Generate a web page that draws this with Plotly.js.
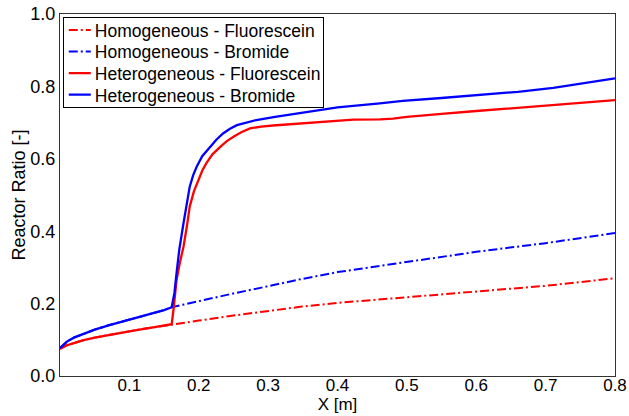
<!DOCTYPE html>
<html>
<head>
<meta charset="utf-8">
<script src="https://cdn.plot.ly/plotly-3.0.1.min.js"></script>
<style>html,body{margin:0;padding:0;background:#fff;}#chart{width:629px;height:416px;}</style>
</head>
<body>
<div id="chart"></div>
<script>
// Heterogeneous - Bromide
const hetBrX = [0, 0.01, 0.02, 0.035, 0.05, 0.07, 0.09, 0.11, 0.13, 0.15, 0.161, 0.165, 0.168, 0.172, 0.178, 0.183, 0.187, 0.192, 0.197, 0.205, 0.216, 0.225, 0.235, 0.245, 0.255, 0.27, 0.283, 0.31, 0.346, 0.375, 0.4, 0.461, 0.494, 0.55, 0.605, 0.66, 0.711, 0.75, 0.8];
const hetBrY = [0.077, 0.095, 0.106, 0.118, 0.128, 0.140, 0.150, 0.160, 0.171, 0.182, 0.190, 0.23, 0.284, 0.35, 0.422, 0.48, 0.523, 0.555, 0.578, 0.607, 0.633, 0.652, 0.670, 0.683, 0.693, 0.701, 0.707, 0.716, 0.726, 0.735, 0.742, 0.753, 0.76, 0.768, 0.776, 0.785, 0.796, 0.808, 0.822];
// Heterogeneous - Fluorescein
const hetFlX = [0, 0.01, 0.02, 0.034, 0.05, 0.082, 0.11, 0.13, 0.15, 0.161, 0.164, 0.168, 0.173, 0.178, 0.183, 0.187, 0.193, 0.199, 0.205, 0.211, 0.22, 0.231, 0.24, 0.25, 0.262, 0.274, 0.29, 0.307, 0.346, 0.38, 0.423, 0.461, 0.48, 0.5, 0.52, 0.55, 0.6, 0.65, 0.7, 0.75, 0.8];
const hetFlY = [0.075, 0.085, 0.091, 0.099, 0.106, 0.118, 0.127, 0.133, 0.139, 0.143, 0.19, 0.265, 0.315, 0.357, 0.415, 0.468, 0.51, 0.541, 0.567, 0.588, 0.613, 0.633, 0.648, 0.661, 0.674, 0.684, 0.689, 0.692, 0.697, 0.701, 0.708, 0.709, 0.711, 0.716, 0.72, 0.724, 0.732, 0.74, 0.748, 0.754, 0.762];
// Homogeneous - Bromide
const homBrX = [0, 0.01, 0.02, 0.035, 0.05, 0.07, 0.09, 0.11, 0.13, 0.15, 0.161, 0.2, 0.25, 0.3, 0.346, 0.4, 0.5, 0.6, 0.7, 0.8];
const homBrY = [0.077, 0.095, 0.106, 0.118, 0.128, 0.140, 0.150, 0.160, 0.171, 0.182, 0.190, 0.207, 0.228, 0.248, 0.267, 0.287, 0.315, 0.343, 0.367, 0.395];
// Homogeneous - Fluorescein
const homFlX = [0, 0.01, 0.02, 0.034, 0.05, 0.082, 0.11, 0.13, 0.15, 0.161, 0.2, 0.25, 0.3, 0.346, 0.4, 0.5, 0.6, 0.7, 0.8];
const homFlY = [0.075, 0.085, 0.091, 0.099, 0.106, 0.118, 0.127, 0.133, 0.139, 0.143, 0.153, 0.167, 0.18, 0.191, 0.202, 0.218, 0.232, 0.249, 0.27];

const names = ['Homogeneous - Fluorescein', 'Homogeneous - Bromide', 'Heterogeneous - Fluorescein', 'Heterogeneous - Bromide'];
const xTicks = [0.1, 0.2, 0.3, 0.4, 0.5, 0.6, 0.7, 0.8];
const yTicks = [0, 0.2, 0.4, 0.6, 0.8, 1.0];
const yTickText = ['0.0', '0.2', '0.4', '0.6', '0.8', '1.0'];

const dashPattern = '9px,3px,2px,3px';
const traces = [
  {x: homFlX, y: homFlY, name: names[0], mode: 'lines', line: {color: '#ff0000', width: 2, dash: dashPattern}},
  {x: homBrX, y: homBrY, name: names[1], mode: 'lines', line: {color: '#0000ff', width: 2, dash: dashPattern}},
  {x: hetFlX, y: hetFlY, name: names[2], mode: 'lines', line: {color: '#ff0000', width: 2.3}},
  {x: hetBrX, y: hetBrY, name: names[3], mode: 'lines', line: {color: '#0000ff', width: 2.3}}
];

const layout = {
  width: 629, height: 416,
  margin: {l: 60, r: 14, t: 14, b: 40},
  paper_bgcolor: '#fff', plot_bgcolor: '#fff',
  font: {family: 'Liberation Sans, Arial, sans-serif', size: 18, color: '#000'},
  showlegend: true,
  legend: {x: 0.005, y: 0.992, xanchor: 'left', yanchor: 'top', bordercolor: '#000', borderwidth: 1,
           bgcolor: '#fff', font: {size: 17.5}, tracegroupgap: 0},
  xaxis: {range: [0, 0.8], tickvals: xTicks, ticktext: xTicks.map(v => v.toFixed(1)),
          showgrid: false, zeroline: false, showline: true, mirror: true, linecolor: '#333', linewidth: 1,
          ticks: '', tickfont: {size: 17}, ticklabelstandoff: -6,
          title: {text: 'X [m]', font: {size: 17}, standoff: 2}},
  yaxis: {range: [0, 1.0], tickvals: yTicks, ticktext: yTickText,
          showgrid: false, zeroline: false, showline: true, mirror: true, linecolor: '#333', linewidth: 1,
          ticks: '', tickfont: {size: 18},
          title: {text: 'Reactor Ratio [-]', font: {size: 18}, standoff: 0}}
};

Plotly.newPlot('chart', traces, layout, {displayModeBar: false, staticPlot: true}).then(function (gd) {
  // compact the legend to match the reference spacing
  const leg = gd.querySelector('.legend');
  if (!leg) return;
  const items = leg.querySelectorAll('.traces');
  items.forEach(function (g, i) {
    g.setAttribute('transform', 'translate(1,' + (13 + i * 21.6) + ')');
    const t = g.querySelector('text.legendtext');
    if (t) t.setAttribute('x', 31);
    const p = g.querySelector('.legendlines path');
    if (p) p.setAttribute('d', 'M5,0h22');
  });
  const bg = leg.querySelector('rect.bg');
  if (bg) { bg.setAttribute('height', 90); bg.setAttribute('width', 260); }
});
</script>
</body>
</html>
